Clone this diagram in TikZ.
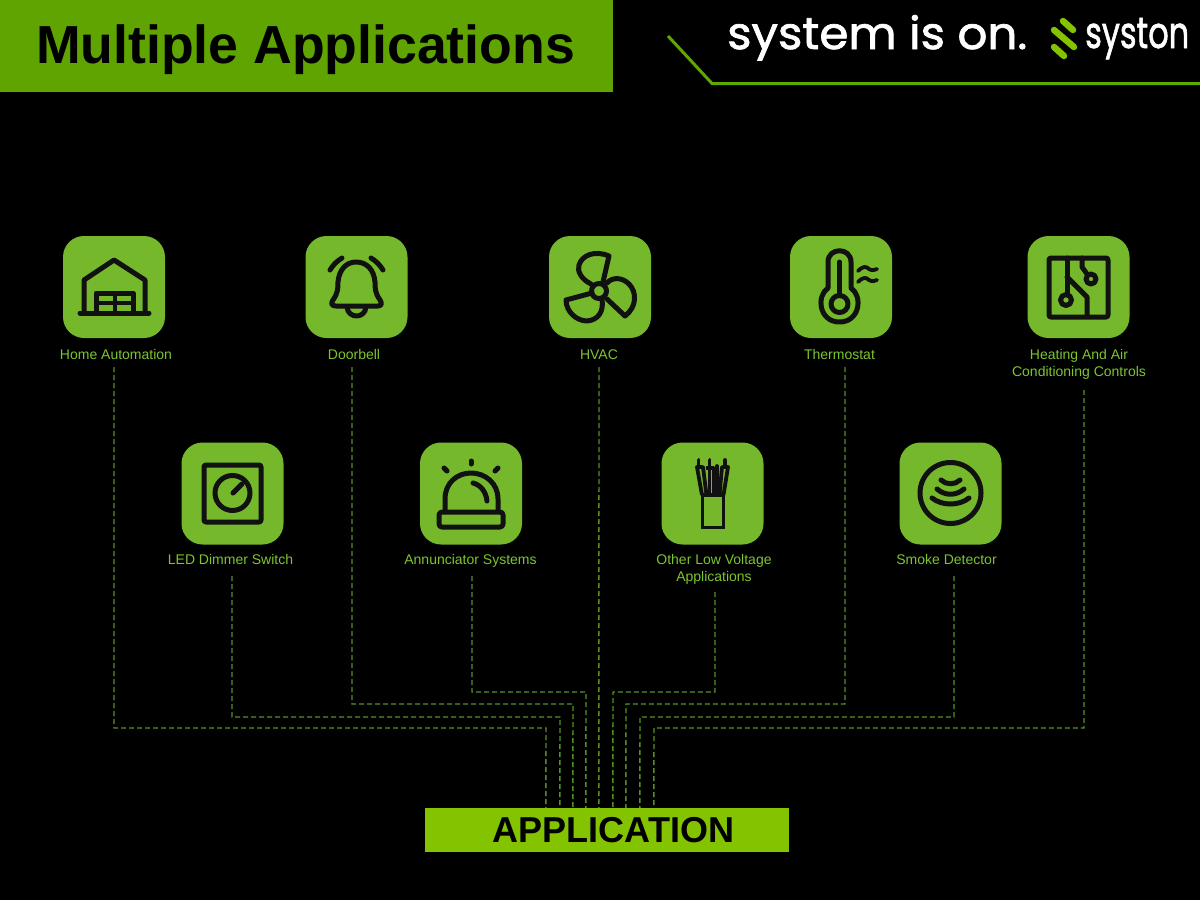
\documentclass[tikz,border=0pt]{standalone}
\usepackage{fontspec}
\setmainfont{Liberation Sans}
\newfontfamily\brandfont[FakeBold=1.6]{Poppins}
\definecolor{hdrgreen}{HTML}{5FA400}
\definecolor{linegreen}{HTML}{5FA800}
\definecolor{tilegreen}{HTML}{75B82B}
\definecolor{labgreen}{HTML}{7CC52E}
\definecolor{bargreen}{HTML}{83C300}
\definecolor{dashgreen}{HTML}{558F22}
\definecolor{ink}{HTML}{111111}
\tikzset{
  tile/.style={fill=tilegreen,draw=none,rounded corners=21pt,minimum width=102pt,minimum height=102pt,inner sep=0pt},
  lab/.style={text=labgreen,inner sep=0pt,align=center,font=\fontsize{14}{17}\selectfont},
  conn/.style={draw=dashgreen,line width=1.4pt,dash pattern=on 5pt off 3pt},
  icon/.style={draw=ink,line width=5pt,line cap=round,line join=round},
  thin icon/.style={icon,line width=3.8pt},
  logostroke/.style={draw=bargreen,line width=6.5pt,line cap=round}
}
\begin{document}
\begin{tikzpicture}[x=1pt,y=-1pt]
\path[use as bounding box,fill=black] (0,0) rectangle (1200,900);
% header
\node[fill=hdrgreen,minimum width=613pt,minimum height=92pt,inner sep=0pt,anchor=north west] (hdr) at (0,0) {};
\node[font=\bfseries\fontsize{53.6}{60}\selectfont,text=black,inner sep=0pt,anchor=base] (title) at (305.5,63) {Multiple Applications};
\coordinate (ln1) at (668,36);
\coordinate (ln2) at (712,83.5);
\coordinate (ln3) at (1200,83.5);
\draw[linegreen,line width=3pt] (ln1) -- (ln2) -- (ln3);
\node[text=white,inner sep=0pt,anchor=base west] (slogan) at (727,49) {\resizebox{300pt}{34pt}{\brandfont\fontsize{50}{50}\selectfont system is on.}};
\node[text=white,inner sep=0pt,anchor=base west] (brand) at (1085,48) {\resizebox{104pt}{30pt}{\brandfont\fontsize{50}{50}\selectfont syston}};
\draw[logostroke] (1063,21) -- (1073,30);
\draw[logostroke] (1054,30) -- (1074,47);
\draw[logostroke] (1054,47) -- (1064,56);
% tiles
\node[tile] (tHome) at (114,287) {};
\node[tile] (tBell) at (356.5,287) {};
\node[tile] (tFan) at (600,287) {};
\node[tile] (tTherm) at (841,287) {};
\node[tile] (tPcb) at (1078.5,287) {};
\node[tile] (tLed) at (232.5,493.5) {};
\node[tile] (tAnn) at (471,493.5) {};
\node[tile] (tLow) at (712.5,493.5) {};
\node[tile] (tSmoke) at (950.5,493.5) {};
% labels
\node[lab,minimum height=26pt] (home) at (116,354) {Home Automation};
\node[lab,minimum height=26pt] (bell) at (354,354) {Doorbell};
\node[lab,minimum height=24pt] (hvac) at (599,355) {HVAC};
\node[lab,minimum height=26pt] (therm) at (839.5,354) {Thermostat};
\node[lab,minimum height=51pt] (heat) at (1079,364.5) {Heating And Air\\Conditioning Controls};
\node[lab,minimum height=34pt] (led) at (230.5,559) {LED Dimmer Switch};
\node[lab,minimum height=30pt] (ann) at (470.5,561) {Annunciator Systems};
\node[lab,minimum height=45pt] (low) at (714,569.5) {Other Low Voltage\\Applications};
\node[lab,minimum height=34pt] (smoke) at (946.5,559) {Smoke Detector};
% application bar
\node[fill=bargreen,text=black,minimum width=364pt,minimum height=44pt,inner sep=0pt,font=\bfseries\fontsize{36}{40}\selectfont] (app) at (607,830) {\hspace*{13pt}APPLICATION};
% connectors
\draw[conn] ([xshift=-2pt]home.south) |- (546,728) -- ([xshift=121pt]app.north west);
\draw[conn] ([xshift=1.5pt]led.south) |- (560,717) -- ([xshift=135pt]app.north west);
\draw[conn] ([xshift=-2pt]bell.south) |- (573,704) -- ([xshift=148pt]app.north west);
\draw[conn] ([xshift=1.5pt]ann.south) |- (586,692) -- ([xshift=161pt]app.north west);
\draw[conn] (hvac.south) -- ([xshift=174pt]app.north west);
\draw[conn] ([xshift=1pt]low.south) |- (613,692) -- ([xshift=188pt]app.north west);
\draw[conn] ([xshift=5.5pt]therm.south) |- (626,704) -- ([xshift=201pt]app.north west);
\draw[conn] ([xshift=7.5pt]smoke.south) |- (640,717) -- ([xshift=215pt]app.north west);
\draw[conn] ([xshift=5pt]heat.south) |- (654,728) -- ([xshift=229pt]app.north west);
% garage icon
\draw[icon,line width=5pt] (80,313) -- (149,313);
\draw[icon] (84,312) -- (84,280) -- (114,260) -- (145,280) -- (145,312);
\draw[icon] (96,312) -- (96,293) -- (133,293) -- (133,312);
\draw[thin icon] (96,303) -- (133,303) (115,293) -- (115,312);
% bell icon
\draw[icon] (336,306) .. controls (331,306) and (331,303) .. (333,300) .. controls (338,293) and (338,288) .. (338,282) .. controls (339,270) and (346,262) .. (356,262) .. controls (367,262) and (374,270) .. (375,282) .. controls (375,288) and (375,293) .. (380,300) .. controls (382,303) and (382,306) .. (378,306) -- cycle;
\draw[icon] (347,307) .. controls (348,319) and (365,319) .. (366,307);
\draw[icon] (330,270) .. controls (333,265) and (337,261) .. (342,258);
\draw[icon] (371,258) .. controls (376,261) and (380,265) .. (383,270);
% fan icon
\draw[icon] (599,291) circle[radius=7.5pt];
\draw[icon] (591,284) .. controls (581,279) and (577,271) .. (579,265) .. controls (582,255) and (595,250) .. (609,256) -- (603,282);
\draw[icon] (607,283) .. controls (612,277) and (622,277) .. (629,284) .. controls (637,292) and (637,307) .. (625,316) -- (607,299);
\draw[icon] (592,293) -- (566,300) .. controls (566,312) and (577,321) .. (587,321) .. controls (598,320) and (604,312) .. (602,299);
% thermometer icon
\draw[icon] (828,288) -- (828,262) .. controls (828,247) and (851,247) .. (851,262) -- (851,288) .. controls (863,296) and (860,322) .. (839.5,322) .. controls (819,322) and (816,296) .. (828,288) -- cycle;
\draw[icon] (839.5,304) circle[radius=8.5pt];
\draw[icon] (839.5,262) -- (839.5,295);
\draw[thin icon] (858,271) .. controls (863,266) and (866,266) .. (869,269) .. controls (872,271) and (875,270) .. (877,269);
\draw[thin icon] (858,282) .. controls (863,277) and (866,277) .. (869,280) .. controls (872,282) and (875,281) .. (877,280);
% circuit board icon
\draw[icon,rounded corners=2pt] (1049,258) rectangle (1108,317);
\draw[icon] (1067,258) -- (1067,295);
\draw[icon] (1067,277) -- (1087,297) -- (1087,316);
\draw[icon] (1082,258) -- (1082,267) -- (1087,274);
\draw[icon] (1066,300) circle[radius=5.5pt];
\draw[icon] (1091,279) circle[radius=5pt];
% dimmer icon
\draw[icon,rounded corners=2pt] (204,465) rectangle (261,522);
\draw[icon] (232.5,493) circle[radius=17.5pt];
\draw[icon] (233,493) -- (242,484);
% annunciator icon
\draw[icon,rounded corners=3pt] (439,512) rectangle (503,527);
\draw[icon] (445,511) -- (445,499) .. controls (445,483) and (457,473) .. (471,473) .. controls (485,473) and (498,483) .. (498,499) -- (498,511);
\draw[icon] (473,483) .. controls (481,485) and (486,492) .. (487,501);
\draw[icon] (471,461) -- (471,464);
\draw[icon] (444,468) -- (447,471);
\draw[icon] (498,468) -- (495,471);
% wires icon
\draw[thin icon,line cap=butt,line join=miter] (702.5,495) rectangle (723.5,527.5);
\draw[thin icon,line cap=butt] (702,495) -- (697,467) -- (703,467) -- (706.5,495);
\draw[thin icon,line cap=butt] (723.5,495) -- (728,467) -- (722,467) -- (719.5,495);
\draw[thin icon] (698.5,460) -- (698.5,467) (709.5,460) -- (709.5,494) (717,466) -- (717,494) (725,460) -- (725,467);
\draw[thin icon,line cap=butt] (706,468) -- (713.5,468) -- (713.5,495);
% smoke detector icon
\draw[icon] (950.5,493) circle[radius=30.5pt];
\draw[icon] (941,480) .. controls (946,485) and (955,485) .. (960,480);
\draw[icon] (937,489) .. controls (945,496) and (956,496) .. (964,489);
\draw[icon] (932,498) .. controls (942,506) and (959,506) .. (969,498);
\end{tikzpicture}
\end{document}
